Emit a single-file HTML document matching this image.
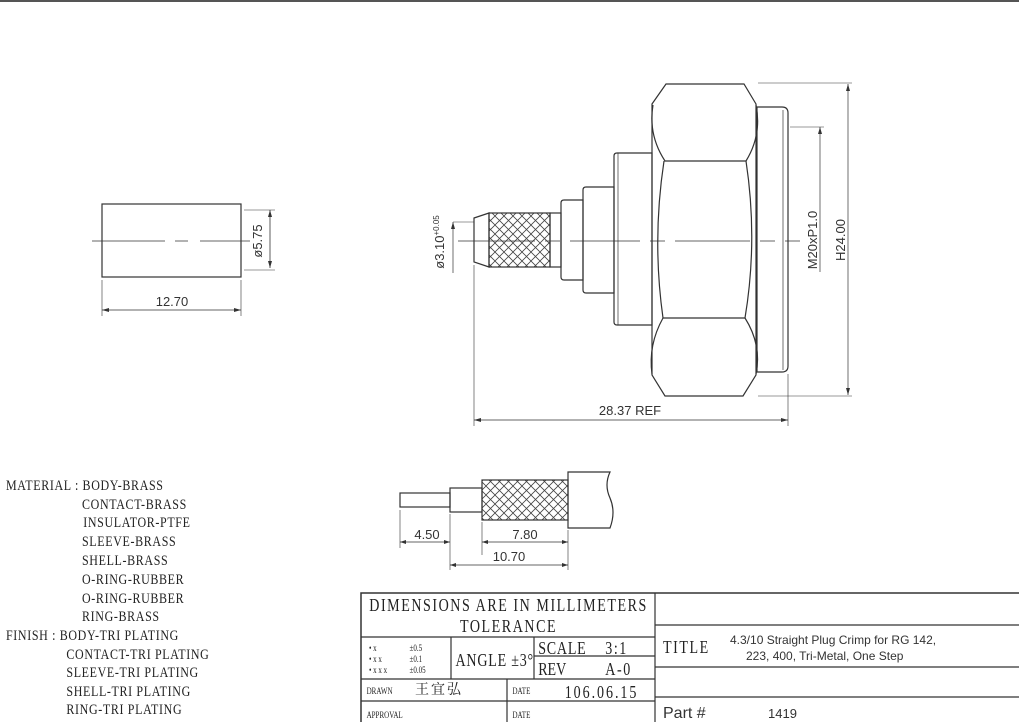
<!DOCTYPE html>
<html><head><meta charset="utf-8"><style>
html,body{margin:0;padding:0;background:#fff;}
svg{display:block;}
.t{font-family:"Liberation Sans",sans-serif;fill:#333;}
.s{font-family:"Liberation Serif","Noto Serif CJK SC",serif;fill:#222;}
</style></head><body>
<svg width="1019" height="722" viewBox="0 0 1019 722" xmlns="http://www.w3.org/2000/svg">
<defs>
<pattern id="kn" width="9" height="9" patternUnits="userSpaceOnUse">
<path d="M0 0L9 9M9 0L0 9" stroke="#444" stroke-width="0.8"/>
</pattern>
</defs>
<line x1="0" y1="1" x2="1019" y2="1" stroke="#555" stroke-width="2"/>
<g fill="none" stroke="#333" stroke-width="1.2">
<rect x="102" y="204" width="139" height="73"/>
<path d="M92 241H165M175 241H188M200 241H250" stroke-width="0.8"/>
<path d="M244 210H275M244 270H275" stroke-width="0.6"/>
<line x1="270" y1="210" x2="270" y2="268" stroke-width="0.8"/>
<path d="M102 280V316M241 280V316" stroke-width="0.6"/>
<line x1="102" y1="310" x2="241" y2="310" stroke-width="0.8"/>

<path d="M474 218L489 213V267L474 262Z"/>
<rect x="489" y="213" width="61" height="54" fill="url(#kn)"/>
<rect x="550" y="213" width="11" height="54"/>
<path d="M561 203Q561 200 564 200H583V280H564Q561 280 561 277Z"/>
<path d="M583 190Q583 187 586 187H614V293H586Q583 293 583 290Z"/>
<path d="M614 156Q614 153 617 153H652V325H617Q614 325 614 322Z"/>
<line x1="618" y1="153" x2="618" y2="325" stroke-width="0.7"/>
<path d="M666 84H744L756 104V375L743 396H665L652 375V104Z"/>
<path d="M653 105Q648 135 665 161H746Q762 135 756 105"/>
<path d="M664 161Q652 240 663 318H745Q758 240 746 161"/>
<path d="M652 374Q648 345 663 318M756 374Q762 345 745 318"/>
<path d="M757 107H782Q788 107 788 113V366Q788 372 782 372H757Z"/>
<line x1="783" y1="110" x2="783" y2="370" stroke-width="0.7"/>
<path d="M458 241H535M545 241H560M570 241H640M650 241H665M675 241H750M760 241H775M785 241H800" stroke-width="0.7"/>
<path d="M453 222H474" stroke-width="0.6"/>
<line x1="453" y1="222" x2="453" y2="273" stroke-width="0.7"/>
<path d="M790 127H824" stroke-width="0.6"/>
<line x1="820" y1="127" x2="820" y2="272" stroke-width="0.7"/>
<path d="M758 83H852M758 396H852" stroke-width="0.6"/>
<line x1="848" y1="84" x2="848" y2="395" stroke-width="0.7"/>
<path d="M474 265V426M788 374V426" stroke-width="0.6"/>
<line x1="474" y1="420" x2="788" y2="420" stroke-width="0.7"/>

<rect x="400" y="493" width="50" height="14"/>
<rect x="450" y="488" width="32" height="24"/>
<rect x="482" y="480" width="86" height="40" fill="url(#kn)"/>
<path d="M568 472H610Q604 485 610 498Q616 512 610 528H568Z"/>
<path d="M400 510V548M450 514V570M482 522V555M568 530V570" stroke-width="0.6"/>
<line x1="400" y1="542" x2="450" y2="542" stroke-width="0.7"/>
<line x1="482" y1="542" x2="568" y2="542" stroke-width="0.7"/>
<line x1="450" y1="565" x2="568" y2="565" stroke-width="0.7"/>

<rect x="361" y="593" width="660" height="131" stroke-width="1.5"/>
<line x1="655" y1="593" x2="655" y2="722"/>
<line x1="361" y1="637" x2="655" y2="637"/>
<line x1="361" y1="679" x2="655" y2="679"/>
<line x1="361" y1="701" x2="655" y2="701"/>
<line x1="451" y1="637" x2="451" y2="679"/>
<line x1="534" y1="637" x2="534" y2="679"/>
<line x1="534" y1="656" x2="655" y2="656"/>
<line x1="507" y1="679" x2="507" y2="722"/>
<line x1="655" y1="625" x2="1019" y2="625"/>
<line x1="655" y1="667" x2="1019" y2="667"/>
<line x1="655" y1="697" x2="1019" y2="697"/>
</g>
<g fill="#333">
<path d="M270 210l-2 7h4zM270 268l-2 -7h4z"/>
<path d="M102 310l7 -2v4zM241 310l-7 -2v4z"/>
<path d="M453 222l-2 7h4z"/>
<path d="M820 127l-2 7h4z"/>
<path d="M848 84l-2 7h4zM848 395l-2 -7h4z"/>
<path d="M474 420l7 -2v4zM788 420l-7 -2v4z"/>
<path d="M400 542l6 -2v4zM450 542l-6 -2v4zM482 542l6 -2v4zM568 542l-6 -2v4zM450 565l6 -2v4zM568 565l-6 -2v4z"/>
</g>
<g class="t" font-size="13">
<text x="262" y="241" transform="rotate(-90 262 241)" text-anchor="middle">ø5.75</text>
<text x="172" y="306" text-anchor="middle">12.70</text>
<text x="444" y="242" transform="rotate(-90 444 242)" text-anchor="middle">ø3.10<tspan font-size="8" dy="-5">+0.05</tspan></text>
<text x="817" y="240" transform="rotate(-90 817 240)" text-anchor="middle">M20xP1.0</text>
<text x="845" y="240" transform="rotate(-90 845 240)" text-anchor="middle">H24.00</text>
<text x="630" y="415" text-anchor="middle">28.37 REF</text>
<text x="427" y="539" text-anchor="middle">4.50</text>
<text x="525" y="539" text-anchor="middle">7.80</text>
<text x="509" y="561" text-anchor="middle">10.70</text>
</g>
<g class="s" font-size="15">
<g transform="scale(0.8 1)" letter-spacing="0.8">
<text x="7.5" y="490">MATERIAL : BODY-BRASS</text>
<text x="102.5" y="509">CONTACT-BRASS</text>
<text x="104" y="527">INSULATOR-PTFE</text>
<text x="102.5" y="546">SLEEVE-BRASS</text>
<text x="102.5" y="565">SHELL-BRASS</text>
<text x="102.5" y="584">O-RING-RUBBER</text>
<text x="102.5" y="603">O-RING-RUBBER</text>
<text x="102.5" y="621">RING-BRASS</text>
<text x="7.5" y="640">FINISH : BODY-TRI PLATING</text>
<text x="83" y="659">CONTACT-TRI PLATING</text>
<text x="83" y="677">SLEEVE-TRI PLATING</text>
<text x="83" y="696">SHELL-TRI PLATING</text>
<text x="83" y="714">RING-TRI PLATING</text>
</g>
<g transform="scale(0.78 1)" font-size="18">
<text x="652" y="611" text-anchor="middle" letter-spacing="2">DIMENSIONS ARE IN MILLIMETERS</text>
<text x="652" y="632" text-anchor="middle" letter-spacing="2">TOLERANCE</text>
<text x="584" y="666" letter-spacing="1">ANGLE ±3°</text>
<text x="690" y="654" letter-spacing="1">SCALE</text>
<text x="776" y="654" letter-spacing="2">3:1</text>
<text x="690" y="675">REV</text>
<text x="776" y="675" letter-spacing="2">A-0</text>
<text x="724" y="698" letter-spacing="2.5">106.06.15</text>
<text x="850" y="653" letter-spacing="2">TITLE</text>
</g>
<g transform="scale(0.78 1)" font-size="9">
<text x="473" y="651">• x</text><text x="525" y="651">±0.5</text>
<text x="473" y="662">• x x</text><text x="525" y="662">±0.1</text>
<text x="473" y="673">• x x x</text><text x="525" y="673">±0.05</text>
<text x="470" y="694">DRAWN</text>
<text x="657" y="694">DATE</text>
<text x="470" y="718">APPROVAL</text>
<text x="657" y="718">DATE</text>
</g>
<text x="415" y="694" font-size="14" letter-spacing="2" font-family="'Noto Serif CJK SC',serif">王宜弘</text>
</g>
<g class="t" fill="#222">
<text x="730" y="644" font-size="12">4.3/10 Straight Plug Crimp for RG 142,</text>
<text x="746" y="660" font-size="12">223, 400, Tri-Metal, One Step</text>
<text x="663" y="718" font-size="16">Part #</text>
<text x="768" y="718" font-size="13">1419</text>
</g>
</svg>
</body></html>
